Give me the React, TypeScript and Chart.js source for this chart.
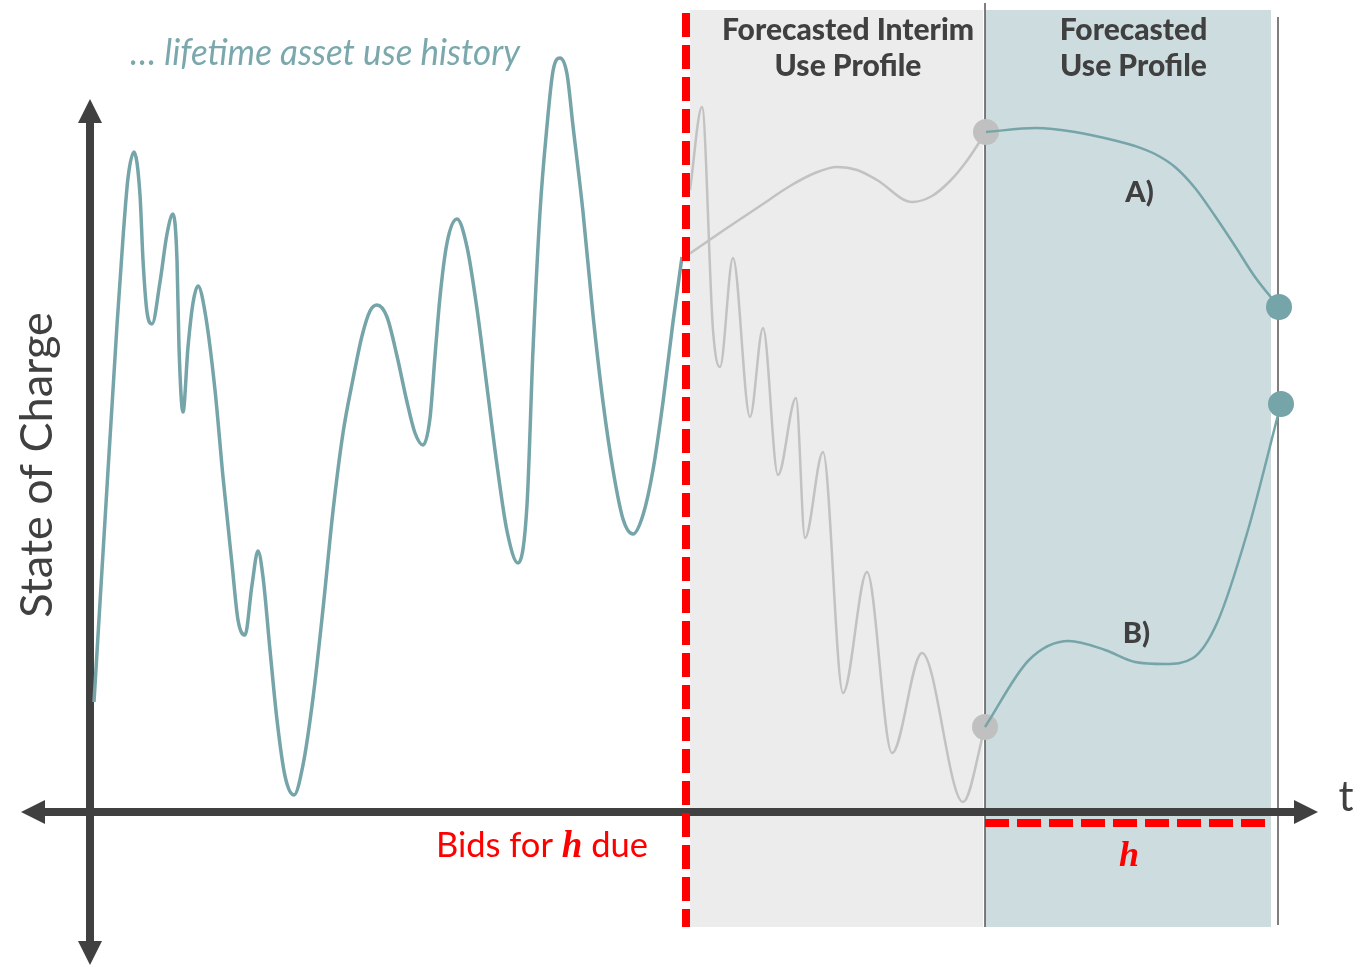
import React, { useEffect, useRef } from "react";
import { Chart, registerables } from "chart.js";

Chart.register(...registerables);

// ---------- data (time t, state of charge) ----------
const HISTORY_T = [0.4, 1.5, 2.7, 3.3, 3.8, 4.4, 5.0, 5.3, 5.7, 6.2, 7.0, 7.7, 8.3, 8.7, 8.9, 9.3, 9.8, 10.3, 10.8, 11.5, 12.5, 13.3, 14.2, 14.8, 15.5, 16.2, 16.8, 17.3, 18.0, 18.7, 19.5, 20.4, 21.3, 22.3, 23.3, 24.3, 25.3, 26.3, 27.2, 28.0, 28.7, 29.7, 30.7, 31.7, 32.5, 33.3, 34.0, 34.5, 35.0, 35.7, 36.7, 37.7, 38.7, 39.7, 40.7, 41.7, 42.8, 43.7, 44.3, 45.0, 45.7, 46.3, 47.0, 47.7, 48.3, 49.3, 50.3, 51.3, 52.3, 53.3, 54.3, 55.3, 56.3, 57.3, 58.3, 59.2];
const HISTORY_SOC = [11.0, 29.2, 48.7, 57.4, 63.4, 66.0, 61.7, 55.2, 50.0, 48.8, 53.0, 57.8, 59.8, 55.2, 46.5, 40.0, 46.5, 50.9, 52.6, 50.0, 42.2, 33.5, 24.8, 19.2, 17.7, 22.7, 26.1, 23.5, 16.2, 9.2, 3.6, 1.7, 4.7, 11.4, 20.3, 30.1, 37.9, 43.3, 47.6, 50.1, 50.7, 49.5, 45.6, 41.0, 37.9, 36.7, 39.4, 45.6, 51.5, 56.9, 59.3, 56.5, 50.3, 42.5, 34.7, 28.1, 24.9, 30.7, 46.2, 60.0, 68.6, 74.1, 75.4, 73.8, 68.6, 60.0, 49.7, 41.0, 34.2, 29.3, 27.8, 29.7, 34.2, 41.0, 49.0, 55.5];

const INTERIM_UP_T = [59.3, 60.2, 63.4, 67.0, 70.0, 72.5, 74.7, 76.7, 78.7, 82.2, 84.2, 86.0, 87.6, 89.6];
const INTERIM_UP_SOC = [55.4, 56.0, 58.2, 60.6, 62.6, 63.9, 64.5, 64.2, 63.2, 61.0, 61.6, 63.1, 65.0, 68.0];

const INTERIM_DOWN_T = [60.0, 61.2, 62.3, 63.0, 64.3, 66.0, 67.3, 68.8, 70.6, 71.5, 73.3, 75.3, 77.7, 80.2, 83.2, 87.3, 89.5];
const INTERIM_DOWN_SOC = [62.2, 70.5, 48.2, 44.5, 55.4, 39.5, 48.4, 33.7, 41.4, 27.4, 36.0, 11.9, 24.0, 5.9, 15.9, 1.0, 8.5];

const PROFILE_A_T = [89.6, 94.6, 98.5, 102.7, 104.5, 106.5, 108.5, 110.5, 112.5, 114.5, 116.5, 118.9];
const PROFILE_A_SOC = [68.0, 68.4, 68.0, 67.1, 66.6, 65.8, 64.5, 62.4, 59.6, 56.6, 53.5, 50.5];

const PROFILE_B_T = [89.5, 93.9, 97.9, 101.5, 104.5, 107.5, 110.3, 112.7, 115.8, 118.8];
const PROFILE_B_SOC = [8.5, 15.2, 17.1, 16.2, 15.0, 14.8, 15.4, 18.9, 28.2, 39.7];

const START_DOTS_T = [89.6, 89.5];
const START_DOTS_SOC = [68.0, 8.5];
const END_DOTS_T = [118.9, 119.1];
const END_DOTS_SOC = [50.5, 40.8];

// ---------- diagram landmarks (data units) ----------
const VIEW_T = [-9, 127.5];
const VIEW_SOC = [-15.4, 81.2];
const BID_DEADLINE_T = 59.6;
const INTERIM_SPAN = [60.0, 89.3];
const HORIZON_SPAN = [89.5, 118.1];
const PANEL_SOC = [80.2, -11.5];
const DIVIDER_SOC = [80.9, -11.5];
const RIGHT_RULE = { t: 118.8, soc: [79.5, -11.3] };
const H_LINE_SOC = -1.1;
const T_AXIS = [-6.9, 122.8];
const SOC_AXIS = [-15.3, 71.3];

const HEADINGS = [
  { t: 75.8, lines: ["Forecasted Interim", "Use Profile"] },
  { t: 104.35, lines: ["Forecasted", "Use Profile"] },
];
const HEADING_SOC = [77.2, 73.6];

const TEAL = "#75a4a9";
const GREY_LINE = "#c2c2c2";
const DARK = "#404040";
const RED = "#ff0000";

const mk = (ts: number[], vs: number[]) => ts.map((t, i) => ({ x: t, y: vs[i] }));

const diagramPlugin = {
  id: "diagram",
  beforeDatasetsDraw(chart: any) {
    const ctx = chart.ctx;
    const X = (v: number) => chart.scales.x.getPixelForValue(v);
    const Y = (v: number) => chart.scales.y.getPixelForValue(v);
    ctx.save();
    // shaded panels
    ctx.fillStyle = "#ececec";
    ctx.fillRect(X(INTERIM_SPAN[0]), Y(PANEL_SOC[0]), X(INTERIM_SPAN[1]) - X(INTERIM_SPAN[0]), Y(PANEL_SOC[1]) - Y(PANEL_SOC[0]));
    ctx.fillStyle = "#cddcdf";
    ctx.fillRect(X(HORIZON_SPAN[0]), Y(PANEL_SOC[0]), X(HORIZON_SPAN[1]) - X(HORIZON_SPAN[0]), Y(PANEL_SOC[1]) - Y(PANEL_SOC[0]));
    // thin rules
    ctx.strokeStyle = "#555555";
    ctx.lineWidth = 1.5;
    ctx.beginPath();
    ctx.moveTo(X(HORIZON_SPAN[0]), Y(DIVIDER_SOC[0]));
    ctx.lineTo(X(HORIZON_SPAN[0]), Y(DIVIDER_SOC[1]));
    ctx.moveTo(X(RIGHT_RULE.t), Y(RIGHT_RULE.soc[0]));
    ctx.lineTo(X(RIGHT_RULE.t), Y(RIGHT_RULE.soc[1]));
    ctx.stroke();

    // axes with arrowheads
    const head = 24, half = 12;
    const x0 = X(0), y0 = Y(0);
    const xl = X(T_AXIS[0]), xr = X(T_AXIS[1]);
    const yt = Y(SOC_AXIS[1]), yb = Y(SOC_AXIS[0]);
    ctx.strokeStyle = DARK;
    ctx.fillStyle = DARK;
    ctx.lineWidth = 8;
    ctx.lineCap = "butt";
    ctx.beginPath();
    ctx.moveTo(xl + head - 2, y0);
    ctx.lineTo(xr - head + 2, y0);
    ctx.moveTo(x0, yt + head - 2);
    ctx.lineTo(x0, yb - head + 2);
    ctx.stroke();
    const tri = (a: number[], b: number[], c: number[]) => {
      ctx.beginPath();
      ctx.moveTo(a[0], a[1]);
      ctx.lineTo(b[0], b[1]);
      ctx.lineTo(c[0], c[1]);
      ctx.closePath();
      ctx.fill();
    };
    tri([xl, y0], [xl + head, y0 - half], [xl + head, y0 + half]);
    tri([xr, y0], [xr - head, y0 - half], [xr - head, y0 + half]);
    tri([x0, yt], [x0 - half, yt + head], [x0 + half, yt + head]);
    tri([x0, yb], [x0 - half, yb - head], [x0 + half, yb - head]);
    ctx.restore();
  },
  afterDatasetsDraw(chart: any) {
    const ctx = chart.ctx;
    const X = (v: number) => chart.scales.x.getPixelForValue(v);
    const Y = (v: number) => chart.scales.y.getPixelForValue(v);
    ctx.save();
    // red dashed lines
    ctx.strokeStyle = RED;
    ctx.lineWidth = 8;
    ctx.lineCap = "butt";
    ctx.setLineDash([24, 8]);
    ctx.beginPath();
    ctx.moveTo(X(BID_DEADLINE_T), Y(PANEL_SOC[0]) + 3);
    ctx.lineTo(X(BID_DEADLINE_T), Y(PANEL_SOC[1]));
    ctx.stroke();
    ctx.beginPath();
    ctx.moveTo(X(HORIZON_SPAN[0]), Y(H_LINE_SOC));
    ctx.lineTo(X(HORIZON_SPAN[1]), Y(H_LINE_SOC));
    ctx.stroke();
    ctx.setLineDash([]);

    // headings
    ctx.fillStyle = DARK;
    ctx.textAlign = "center";
    ctx.textBaseline = "alphabetic";
    ctx.font = "900 30px Lato";
    HEADINGS.forEach((h) => {
      h.lines.forEach((ln, i) => ctx.fillText(ln, X(h.t), Y(HEADING_SOC[i]), i === 0 && h.lines[0].length > 12 ? 262 : 400));
    });
    ctx.font = "900 29px Lato";
    ctx.fillText("A)", X(104.95), Y(61.0));
    ctx.fillText("B)", X(104.65), Y(16.9));

    // history caption
    ctx.fillStyle = "#7aa8ac";
    ctx.font = "italic 36px Lato";
    ctx.fillText("\u2026 lifetime asset use history", X(23.5), Y(74.7), 390);

    // axis title
    ctx.fillStyle = DARK;
    ctx.save();
    ctx.translate(X(-3.8), Y(34.7));
    ctx.rotate(-Math.PI / 2);
    ctx.font = "45px Lato";
    ctx.textAlign = "center";
    ctx.fillText("State of Charge", 0, 0, 306);
    ctx.restore();

    // t label
    ctx.font = "42px Lato";
    ctx.textAlign = "center";
    ctx.fillText("t", X(125.6), Y(0.1));

    // Bids for h due
    const sans = "34.5px Lato";
    const serif = "italic bold 37px 'Liberation Serif'";
    ctx.fillStyle = RED;
    ctx.textAlign = "left";
    ctx.font = sans;
    const w1 = ctx.measureText("Bids for ").width;
    const w3 = ctx.measureText(" due").width;
    ctx.font = serif;
    const w2 = ctx.measureText("h").width;
    const sx = X(55.8) - (w1 + w2 + w3);
    const by = Y(-4.5);
    ctx.font = sans;
    ctx.fillText("Bids for ", sx, by);
    ctx.font = serif;
    ctx.fillText("h", sx + w1, by);
    ctx.font = sans;
    ctx.fillText(" due", sx + w1 + w2, by);

    // h label
    ctx.font = "italic bold 36px 'Liberation Serif'";
    ctx.textAlign = "center";
    ctx.fillText("h", X(103.9), Y(-5.4));
    ctx.restore();
  },
};

export default function App() {
  const ref = useRef<HTMLCanvasElement | null>(null);
  useEffect(() => {
    document.body.style.margin = "0";
    const canvas = ref.current;
    if (!canvas) return;
    const lineCommon = {
      pointRadius: 0,
      pointHoverRadius: 0,
      cubicInterpolationMode: "monotone" as const,
      fill: false,
    };
    const chart = new Chart(canvas, {
      type: "line",
      data: {
        datasets: [
          { ...lineCommon, data: mk(HISTORY_T, HISTORY_SOC), borderColor: TEAL, borderWidth: 3.5, order: 2 },
          { ...lineCommon, data: mk(INTERIM_UP_T, INTERIM_UP_SOC), borderColor: GREY_LINE, borderWidth: 2.5, order: 6 },
          { ...lineCommon, data: mk(INTERIM_DOWN_T, INTERIM_DOWN_SOC), borderColor: GREY_LINE, borderWidth: 2.5, order: 6 },
          {
            data: mk(START_DOTS_T, START_DOTS_SOC),
            showLine: false,
            pointRadius: 13,
            pointHoverRadius: 13,
            pointBackgroundColor: "#c0c0c0",
            pointBorderWidth: 0,
            borderColor: "#c0c0c0",
            order: 5,
          },
          { ...lineCommon, data: mk(PROFILE_A_T, PROFILE_A_SOC), borderColor: TEAL, borderWidth: 2.5, order: 3 },
          { ...lineCommon, data: mk(PROFILE_B_T, PROFILE_B_SOC), borderColor: TEAL, borderWidth: 2.5, order: 3 },
          {
            data: mk(END_DOTS_T, END_DOTS_SOC),
            showLine: false,
            pointRadius: 13,
            pointHoverRadius: 13,
            pointBackgroundColor: TEAL,
            pointBorderWidth: 0,
            borderColor: TEAL,
            order: 1,
          },
        ],
      },
      options: {
        responsive: false,
        animation: false,
        layout: { padding: 0, autoPadding: false },
        events: [],
        scales: {
          x: { type: "linear", min: VIEW_T[0], max: VIEW_T[1], display: false },
          y: { type: "linear", min: VIEW_SOC[0], max: VIEW_SOC[1], display: false },
        },
        plugins: { legend: { display: false }, tooltip: { enabled: false } },
      },
      plugins: [diagramPlugin],
    });
    return () => chart.destroy();
  }, []);
  return (
    <div style={{ width: 1365, height: 966, background: "#ffffff" }}>
      <canvas ref={ref} width={1365} height={966} style={{ display: "block" }} />
    </div>
  );
}
